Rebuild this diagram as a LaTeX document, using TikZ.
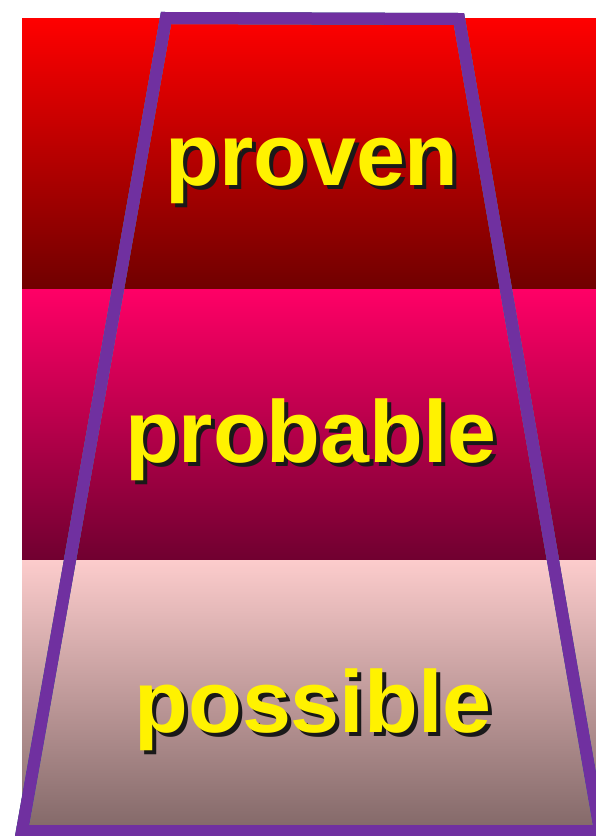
\documentclass[tikz,border=0pt]{standalone}
\usepackage{fontspec}
\setmainfont{Liberation Sans}
\usetikzlibrary{positioning}
\definecolor{rimpurple}{RGB}{112,48,160}
\definecolor{rimlight}{RGB}{160,196,230}
\definecolor{rimdark}{RGB}{40,70,110}
% yellow word with a dark drop shadow
\newcommand{\shadowword}[1]{\rlap{\hspace{4pt}\raisebox{-4pt}{\color{black!90}#1}}#1}

\begin{document}
\begin{tikzpicture}[x=1pt,y=-1pt,
    word/.style={font=\fontsize{88}{100}\selectfont\bfseries, text=yellow, anchor=base, inner sep=0pt},
    rim/.style={line width=12pt, line join=miter}]
    \useasboundingbox (0,0) rectangle (596,836);
    \clip (0,0) rectangle (596,836);

    % the three bands
    \shade[top color={rgb,255:red,255;green,0;blue,0}, bottom color={rgb,255:red,112;green,0;blue,0}] (22,18) rectangle (596,289);
    \shade[top color={rgb,255:red,255;green,0;blue,102}, bottom color={rgb,255:red,112;green,0;blue,48}] (22,289) rectangle (596,560);
    \shade[top color={rgb,255:red,252;green,204;blue,204}, bottom color={rgb,255:red,128;green,102;blue,102}] (22,560) rectangle (596,836);

    % corners of the trapezoid
    \coordinate (tl) at (166,18);
    \coordinate (tr) at (459,19);
    \coordinate (br) at (600,831);
    \coordinate (bl) at (22,831);

    % the rim
    \draw[rim, draw=rimlight, shift={(-1.5,-1.5)}] (tl) -- (tr) -- (br) -- (bl) -- cycle;
    \draw[rim, draw=rimdark, shift={(1.5,1.5)}] (tl) -- (tr) -- (br) -- (bl) -- cycle;
    \draw[rim, draw=rimpurple] (tl) -- (tr) -- (br) -- (bl) -- cycle;

    % labels
    \node[word] (proven) at (312,185) {\shadowword{proven}};
    \node[word] (probable) at (311,462) {\shadowword{probable}};
    \node[word] (possible) at (313,732) {\shadowword{possible}};
\end{tikzpicture}
\end{document}
